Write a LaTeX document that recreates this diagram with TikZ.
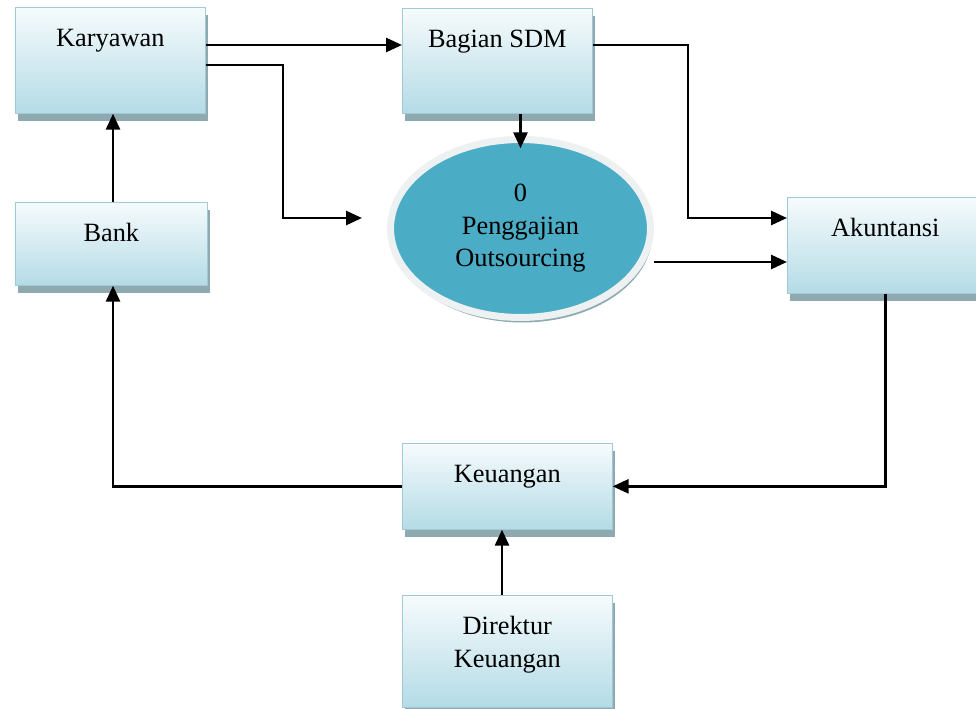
\documentclass[tikz,border=0pt]{standalone}
\usepackage{fontspec}
\setmainfont{Liberation Serif}
\usetikzlibrary{arrows.meta,shadows,shapes.geometric}
\definecolor{boxtop}{HTML}{F6FBFC}
\definecolor{boxbot}{HTML}{B4DBE6}
\definecolor{boxline}{HTML}{A2CAD6}
\definecolor{boxshade}{HTML}{8FA9B1}
\definecolor{ellfill}{HTML}{4BACC6}
\definecolor{ellrim}{HTML}{EDF1F2}
\begin{document}
\begin{tikzpicture}[x=0.02cm,y=-0.02cm,
  font=\fontsize{15}{18.5}\selectfont,
  unit/.style={draw=boxline,thin,top color=boxtop,bottom color=boxbot,
    anchor=north west,inner ysep=0pt,text height=0.78cm,align=center,
    drop shadow={shadow xshift=0.06cm,shadow yshift=-0.16cm,fill=boxshade,opacity=1}},
  process/.style={ellipse,draw=ellrim,line width=0.14cm,fill=ellfill,
    minimum width=5.2cm,minimum height=3.56cm,align=center,
    drop shadow={shadow xshift=0.04cm,shadow yshift=-0.1cm,fill=boxshade,opacity=1}},
  flow/.style={line width=0.055cm,-{Triangle[length=0.32cm,width=0.28cm]}}]
\clip (0,0) rectangle (976,709);
\fill[white] (0,0) rectangle (976,709);
% entitas luar
\node[unit,minimum width=3.8cm,text depth=1.34cm] (kary) at (15,7) {Karyawan};
\node[unit,minimum width=3.8cm,text depth=1.32cm] (sdm) at (402,8) {Bagian SDM};
\node[unit,minimum width=3.84cm,text depth=0.88cm] (bank) at (15,202) {Bank};
\node[unit,minimum width=3.92cm,text depth=1.14cm] (akun) at (787,197) {Akuntansi};
\node[unit,minimum width=4.2cm,text depth=0.94cm] (keu) at (402,443) {Keuangan};
\node[unit,minimum width=4.2cm,text height=1.44cm,text depth=0.8cm] (dir) at (402,595) {Direktur\\Keuangan};
% proses
\node[process] (ell) at (520.5,228.5) {0\\Penggajian\\Outsourcing};
\coordinate (in0) at (362,218);
% aliran data
\draw[flow] (kary.east |- 0,45) -- (sdm.west |- 0,45);
\draw[flow] (kary.east |- 0,65) -| (283,218) -- (in0);
\draw[flow,shorten >=-7pt] (ell.north |- sdm.south) -- (ell.north);
\draw[flow] (sdm.east |- 0,45) -| (688,218) -- (akun.west |- 0,218);
\draw[flow] (ell.east |- 0,262) -- (akun.west |- 0,262);
\draw[flow] (akun.south) |- (keu.east);
\draw[flow] (keu.west) -| (bank.south -| 113,0);
\draw[flow] (bank.north -| 113,0) -- (kary.south -| 113,0);
\draw[flow] (dir.north -| 502,0) -- (keu.south -| 502,0);
\end{tikzpicture}
\end{document}
